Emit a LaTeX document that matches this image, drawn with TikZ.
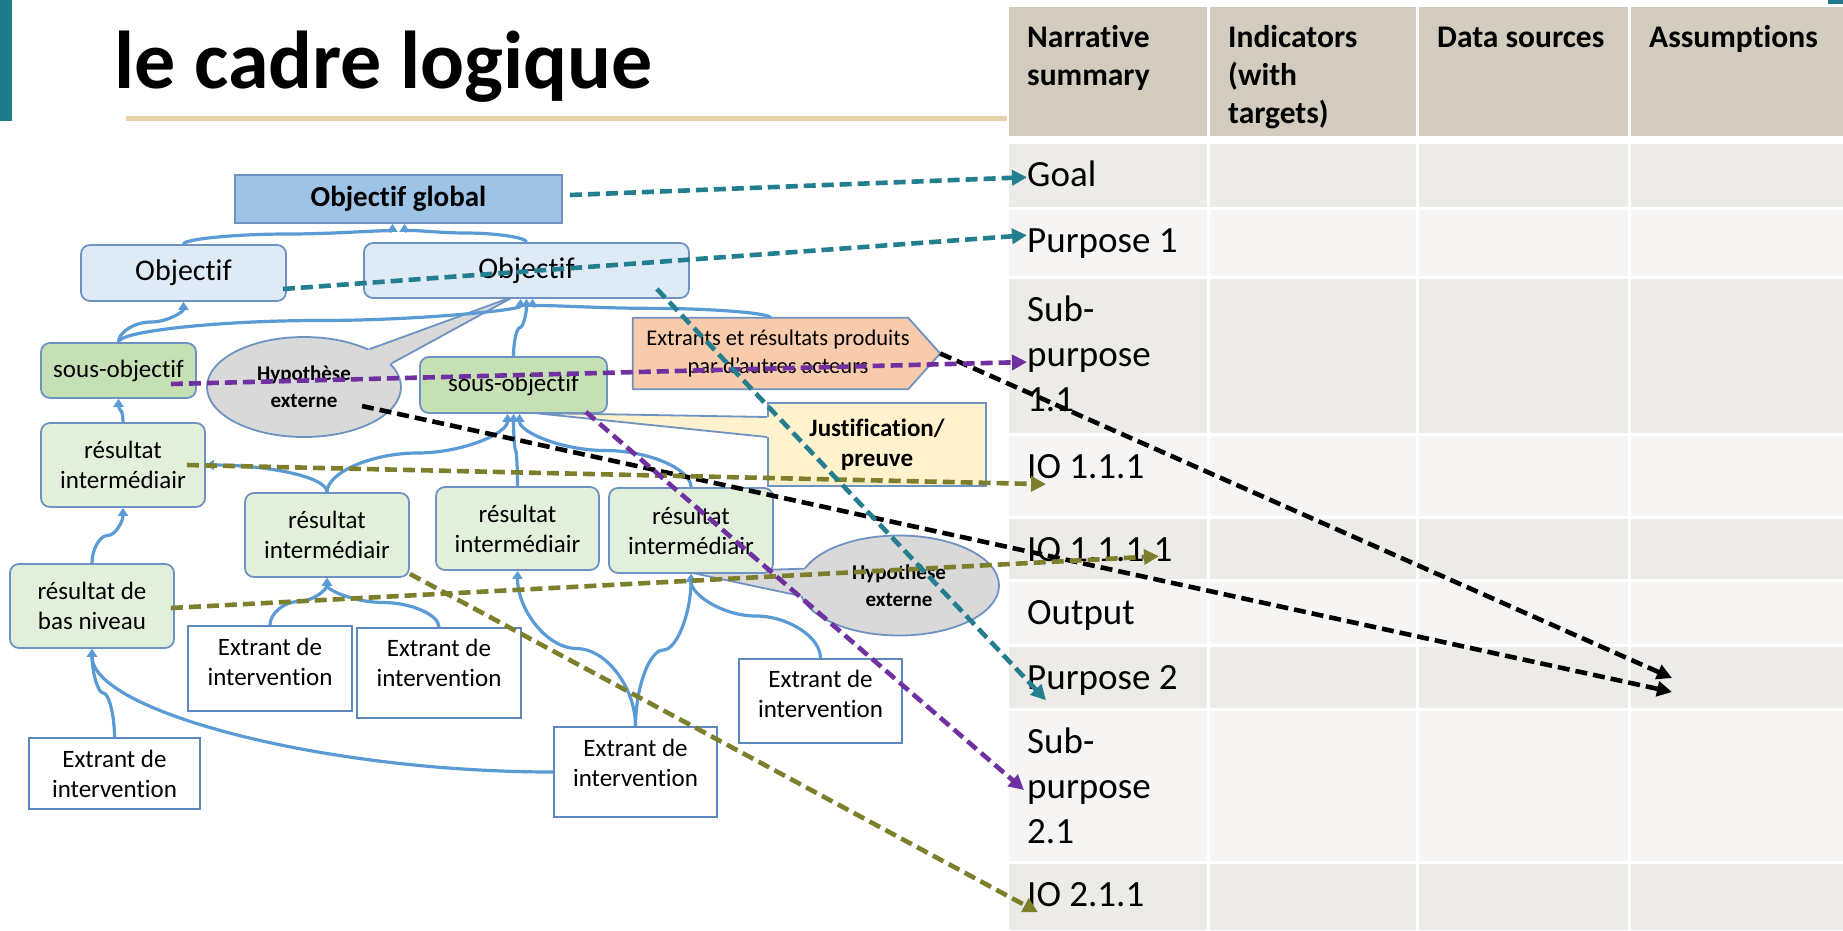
\documentclass[tikz,border=0pt]{standalone}
\usepackage{fontspec}
\setmainfont{Carlito}[Ligatures={TeX,NoCommon}]
\usetikzlibrary{arrows.meta,shapes.geometric,calc}

\definecolor{connblue}{HTML}{5B9BD5}
\definecolor{boxline}{HTML}{6E92C2}
\definecolor{extline}{HTML}{5D88BB}
\definecolor{gfill}{HTML}{9DC3E6}
\definecolor{ofill}{HTML}{DEEBF7}
\definecolor{sfill}{HTML}{C5E0B4}
\definecolor{rfill}{HTML}{E2EFDA}
\definecolor{hfill}{HTML}{D9D9D9}
\definecolor{pfill}{HTML}{F8CBAD}
\definecolor{jfill}{HTML}{FFF2CC}
\definecolor{dteal}{HTML}{237E8F}
\definecolor{dpurple}{HTML}{7030A0}
\definecolor{dolive}{HTML}{7E7F2C}
\definecolor{hdr}{HTML}{D2CBBE}
\definecolor{rowA}{HTML}{EDEBE7}
\definecolor{rowB}{HTML}{F6F5F3}
\definecolor{barteal}{HTML}{1F7A8C}
\definecolor{rulecol}{HTML}{E5D2AB}

\newcommand\fsz[2]{\fontsize{#1}{#2}\selectfont}

% curved connector: leaves vertically, runs across, enters vertically
\newcommand\linkS[3][]{%
  \draw[conn,#1] let \p1=(#2), \p2=(#3) in
    (\p1) .. controls (\x1,{\y1+(\y2-\y1)/4}) and ({\x1+(\x2-\x1)/4},{(\y1+\y2)/2}) ..
    ({(\x1+\x2)/2},{(\y1+\y2)/2}) .. controls ({\x1+3*(\x2-\x1)/4},{(\y1+\y2)/2}) and (\x2,{\y2-(\y2-\y1)/4}) .. (\p2);}

\tikzset{
  box/.style={draw=boxline, line width=1.8pt, align=center, inner sep=0pt},
  rbox/.style={box, rounded corners=9pt},
  glob/.style={box, fill=gfill, font=\bfseries\fsz{29}{34}},
  obj/.style={rbox, fill=ofill, font=\fsz{30}{36}},
  sobj/.style={rbox, fill=sfill, font=\fsz{25}{30}},
  res/.style={rbox, fill=rfill, font=\fsz{25}{30}},
  ext/.style={box, fill=white, draw=extline, font=\fsz{25}{30}},
  hyp/.style={ellipse, draw=boxline, fill=hfill, line width=1.8pt, inner sep=0pt,
              align=center, font=\bfseries\fsz{21}{27}},
  outline/.style={draw=boxline, line width=1.8pt, line join=round},
  conn/.style={draw=connblue, line width=3.2pt, -{Triangle[length=8pt,width=10pt]}},
  dasharrow/.style={line width=4.6pt, dash pattern=on 12pt off 6pt,
                    -{Triangle[length=15pt,width=15pt]}},
  lbl/.style={anchor=north west, inner sep=0pt, align=left, font=\fsz{37}{45}},
  hlbl/.style={anchor=north west, inner sep=0pt, align=left, font=\bfseries\fsz{31.5}{38}},
}

\begin{document}
\begin{tikzpicture}[x=1pt,y=-1pt]
\useasboundingbox (0,0) rectangle (1843,930);
\fill[white] (0,0) rectangle (1843,930);

% ---- title band ----
\fill[barteal] (0,0) rectangle (12,121);
\fill[barteal] (1828,0) rectangle (1843,4);
\fill[rulecol] (126,116) rectangle (1007,121);
\node[anchor=base west, inner sep=0pt, font=\bfseries\fsz{82}{98}] (title) at (114,88) {le cadre logique};

% ---- logframe table ----
\foreach \xa/\xb in {1009/1207,1210/1416,1419/1628,1631/1843} {
  \fill[hdr] (\xa,7) rectangle (\xb,136);
  \foreach \ya/\yb/\c in {144/207/rowA,210/276/rowB,279/433/rowA,436/516/rowB,
                          519/579/rowA,582/644/rowB,647/708/rowA,711/861/rowB,864/930/rowA}
    \fill[\c] (\xa,\ya) rectangle (\xb,\yb);
}
\node[hlbl] (hN) at (1027,20.4) {\strut Narrative\\summary};
\node[hlbl] (hI) at (1228,20.4) {\strut Indicators\\(with\\targets)};
\node[hlbl] (hD) at (1437,20.4) {\strut Data sources};
\node[hlbl] (hA) at (1649,20.4) {\strut Assumptions};

\node[lbl] (lGoal) at (1027,154.5) {\strut Goal};
\node[lbl] (lP1)   at (1027,220.5) {\strut Purpose 1};
\node[lbl] (lS11)  at (1027,289.5) {\strut Sub-\\purpose\\1.1};
\node[lbl] (lIOa)  at (1027,446.5) {\strut IO 1.1.1};
\node[lbl] (lIOb)  at (1027,529.5) {\strut IO 1.1.1.1};
\node[lbl] (lOut)  at (1027,592.5) {\strut Output};
\node[lbl] (lP2)   at (1027,657.5) {\strut Purpose 2};
\node[lbl] (lS21)  at (1027,721.5) {\strut Sub-\\purpose\\2.1};
\node[lbl] (lIOc)  at (1027,874.5) {\strut IO 2.1.1};

\coordinate (asmA) at (1672,678);
\coordinate (asmB) at (1672,692);

% ---- callouts (pointers tucked under the boxes they point at) ----
\coordinate (hltip) at (515,296);
\coordinate (hrtip) at (688,572);
\coordinate (jtip)  at (534,413);

\node[hyp, minimum width=194, minimum height=100] (HypL) at (304,387) {Hypothèse\\externe};
\fill[hfill] (HypL.30) -- (hltip) -- (HypL.15) -- ($(HypL.15)!0.12!(HypL.center)$) -- ($(HypL.30)!0.12!(HypL.center)$) -- cycle;
\draw[outline] (HypL.30) -- (hltip) -- (HypL.15);

\node[hyp, minimum width=200, minimum height=100] (HypR) at (899,585.5) {Hypothèse\\externe};
\fill[hfill] (HypR.170) -- (hrtip) -- (HypR.186) -- ($(HypR.186)!0.12!(HypR.center)$) -- ($(HypR.170)!0.12!(HypR.center)$) -- cycle;
\draw[outline] (HypR.170) -- (hrtip) -- (HypR.186);

\node[box, fill=jfill, font=\bfseries\fsz{25}{30}, minimum width=218, minimum height=83] (Justif) at (877,444.5) {Justification/\\preuve};
\fill[jfill] ([shift={(0,-27.5)}]Justif.west) -- (jtip) -- ([shift={(0,-7.5)}]Justif.west)
  -- ([shift={(4,-7.5)}]Justif.west) -- ([shift={(4,-27.5)}]Justif.west) -- cycle;
\draw[outline] ([shift={(0,-27.5)}]Justif.west) -- (jtip) -- ([shift={(0,-7.5)}]Justif.west);

\node[inner sep=0pt, minimum width=275, minimum height=71] (Extr) at (770.5,353.5) {};
\filldraw[outline, fill=pfill] (Extr.north west) -- (Extr.north east) -- ([shift={(32,0)}]Extr.east)
  -- (Extr.south east) -- (Extr.south west) -- cycle;
\node[inner sep=0pt, align=center, font=\fsz{22.5}{28}] (ExtrTxt) at ([shift={(7.5,0)}]Extr.center)
  {Extrants et résultats produits\\par d'autres acteurs};

% ---- hierarchy boxes ----
\node[glob, minimum width=327, minimum height=48] (ObjG) at (398.5,199) {Objectif global};
\node[obj, minimum width=205, minimum height=56] (ObjL) at (183.5,273) {Objectif};
\node[obj, minimum width=325, minimum height=55] (ObjR) at (526.5,270.5) {Objectif};
\node[sobj, minimum width=155, minimum height=55] (SousL) at (118.5,370.5) {sous-objectif};
\node[sobj, minimum width=187, minimum height=56] (SousR) at (513.5,385) {sous-objectif};

\node[res, minimum width=164, minimum height=84] (R1) at (123,465) {résultat\\intermédiair};
\node[res, minimum width=164, minimum height=84] (R2) at (327,535) {résultat\\intermédiair};
\node[res, minimum width=163, minimum height=83] (R3) at (517.5,528.5) {résultat\\intermédiair};
\node[res, minimum width=164, minimum height=85] (R4) at (691,530.5) {résultat\\intermédiair};
\node[res, minimum width=164, minimum height=84] (BasNiv) at (92,606) {résultat de\\bas niveau};

\node[ext, minimum width=171, minimum height=71] (ExtA) at (114.5,773.5) {Extrant de\\intervention};
\node[ext, minimum width=164, minimum height=85] (ExtB) at (270,668.5) {Extrant de\\intervention\\[-16pt]\mbox{}};
\node[ext, minimum width=164, minimum height=90] (ExtC) at (439,673) {Extrant de\\intervention\\[-9pt]\mbox{}};
\node[ext, minimum width=163, minimum height=84] (ExtD) at (820.5,701) {Extrant de\\intervention\\[-15pt]\mbox{}};
\node[ext, minimum width=163, minimum height=90] (ExtE) at (635.5,772) {Extrant de\\intervention\\[-12pt]\mbox{}};

% ---- blue links ----
\linkS{ObjL.north}{[shift={(-6,0)}]ObjG.south}
\linkS{ObjR.north}{[shift={(6,0)}]ObjG.south}
\linkS{SousL.north}{ObjL.south}
\linkS{SousL.north}{[shift={(-6,0)}]ObjR.south}
\linkS{SousR.north}{ObjR.south}
\linkS{Extr.north}{[shift={(6,0)}]ObjR.south}
\linkS{R1.north}{SousL.south}
\draw[conn] (R2.north) .. controls +(0,-15.5) and +(61,0) .. (R1.east);
\linkS{R2.north}{[shift={(-6,0)}]SousR.south}
\linkS{R3.north}{SousR.south}
\linkS{R4.north}{[shift={(6,0)}]SousR.south}
\linkS{BasNiv.north}{R1.south}
\linkS{ExtA.north}{BasNiv.south}
\draw[conn] (ExtE.west) .. controls +(-231,0) and +(0,62) .. (BasNiv.south);
\linkS{ExtB.north}{R2.south}
\linkS{ExtC.north}{R2.south}
\linkS{ExtE.north}{R3.south}
\linkS{ExtE.north}{R4.south}
\linkS{ExtD.north}{R4.south}

% ---- dashed mapping arrows into the logframe ----
\draw[dasharrow, black] ([shift={(32,0)}]Extr.east) -- (asmA);
\draw[dasharrow, black] ([shift={(58,19)}]HypL.center) -- (asmB);
\draw[dasharrow, dolive] ([shift={(-19,0)}]R1.east) -- ([shift={(19,15)}]lIOa.west);
\draw[dasharrow, dolive] ([shift={(-4,2)}]BasNiv.east) -- ([shift={(132,4)}]lIOb.west);
\draw[dasharrow, dolive] ([shift={(0,-4)}]R2.south east) -- ([shift={(11,15)}]lIOc.west);
\draw[dasharrow, dpurple] ([shift={(-26,13.5)}]SousL.east) -- ([shift={(0,72.5)}]lS11.north west);
\draw[dasharrow, dpurple] ([shift={(-22,-2)}]SousR.south east) -- ([shift={(-3,68.5)}]lS21.north west);
\draw[dasharrow, dteal] ([shift={(7,-4)}]ObjG.east) -- (lGoal.west);
\draw[dasharrow, dteal] ([shift={(-4,16)}]ObjL.east) -- ([shift={(0,-8)}]lP1.west);
\draw[dasharrow, dteal] ([shift={(-33,-10)}]ObjR.south east) -- ([shift={(19,20)}]lP2.west);
\end{tikzpicture}
\end{document}
